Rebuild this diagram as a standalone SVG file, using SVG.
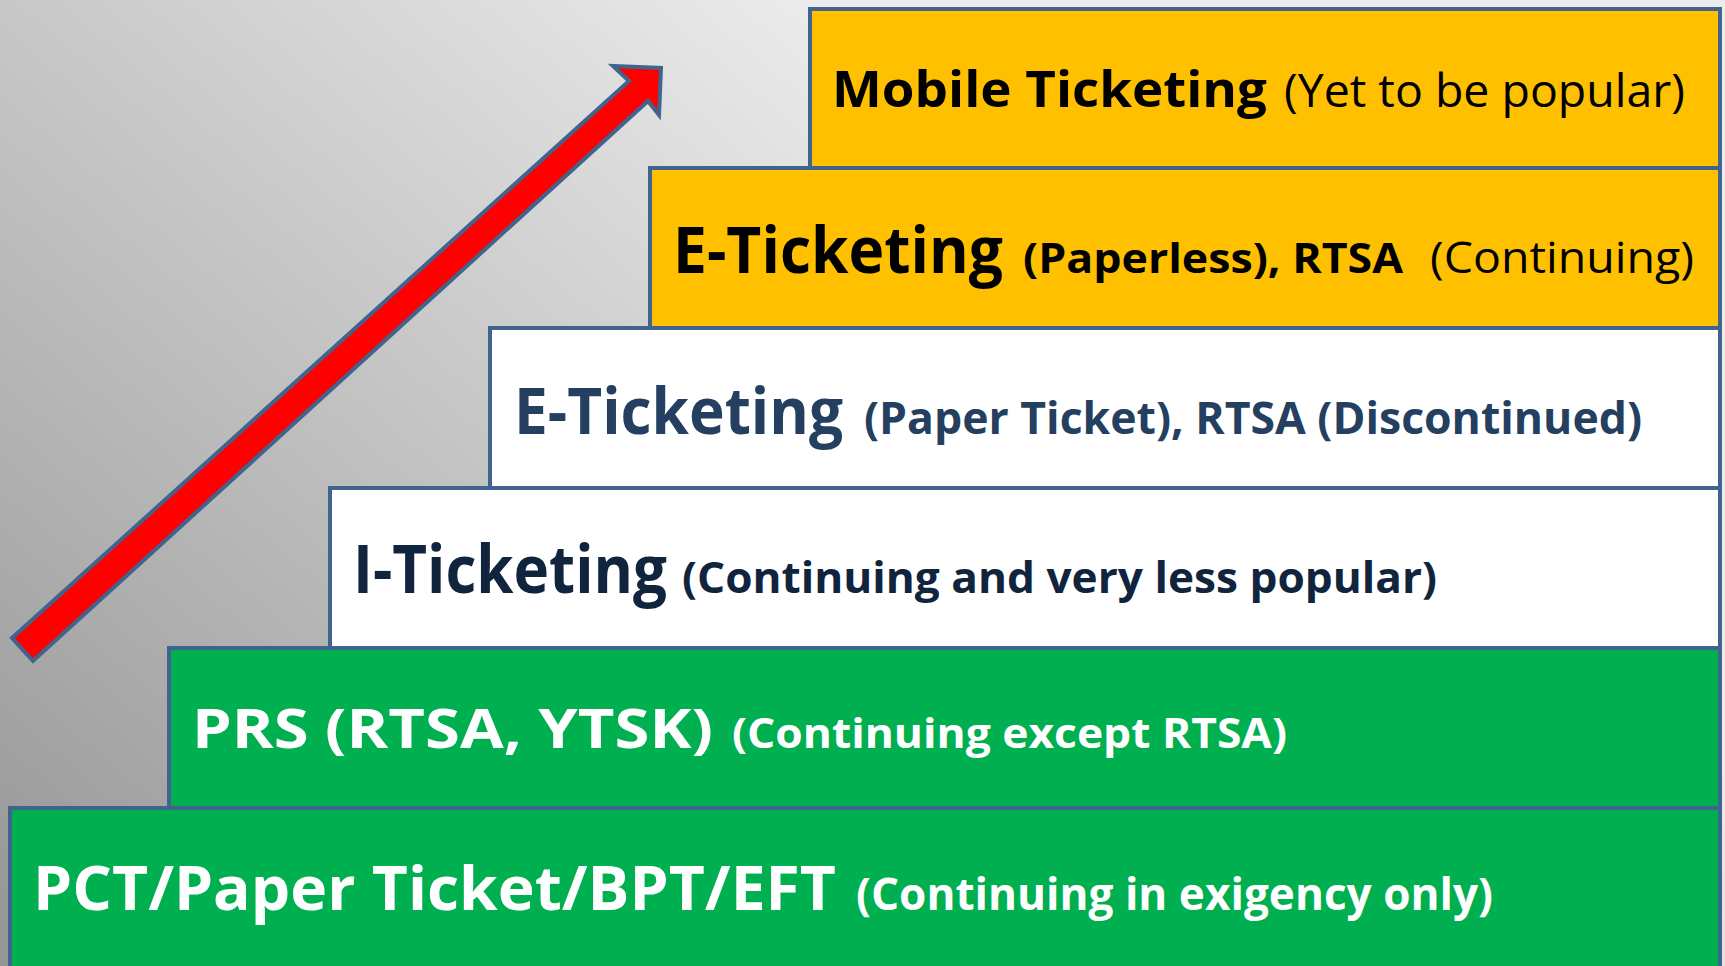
<svg xmlns="http://www.w3.org/2000/svg" width="1725" height="966" viewBox="0 0 1725 966">
<defs>
<linearGradient id="bg" gradientUnits="userSpaceOnUse" x1="0" y1="966" x2="820" y2="0">
<stop offset="0" stop-color="#959595"/>
<stop offset="1" stop-color="#ececec"/>
</linearGradient>
<style>
.box{stroke:#41648F;stroke-width:4}
.orange{fill:#FFC000}
.green{fill:#00B050}
.white{fill:#FFFFFF}
text{font-family:"Open Sans","Noto Sans","Liberation Sans",sans-serif}
.b{font-weight:bold}
.r{font-weight:normal}
.k{fill:#000000}
.nv{fill:#243F60}
.dn{fill:#10243E}
.w{fill:#FFFFFF}
</style>
</defs>
<rect x="0" y="0" width="1725" height="966" fill="url(#bg)"/>

<g id="step-mobile">
<rect class="box orange" x="810" y="9" width="910" height="159"/>
<text class="b k" x="832" y="107" font-size="51" textLength="435" lengthAdjust="spacingAndGlyphs">Mobile Ticketing</text>
<text class="r k" x="1284" y="107" font-size="45" textLength="401" lengthAdjust="spacingAndGlyphs">(Yet to be popular)</text>
</g>

<g id="step-eticket-paperless">
<rect class="box orange" x="650" y="168" width="1070" height="160"/>
<text class="b k" x="673" y="273" font-size="64" textLength="330" lengthAdjust="spacingAndGlyphs">E-Ticketing</text>
<text class="b k" x="1023" y="273" font-size="42" textLength="380" lengthAdjust="spacingAndGlyphs">(Paperless), RTSA</text>
<text class="r k" x="1430" y="273" font-size="44" textLength="264" lengthAdjust="spacingAndGlyphs">(Continuing)</text>
</g>

<g id="step-eticket-paper">
<rect class="box white" x="490" y="328" width="1230" height="160"/>
<text class="b nv" x="514" y="434" font-size="65" textLength="329" lengthAdjust="spacingAndGlyphs">E-Ticketing</text>
<text class="b nv" x="864" y="434" font-size="44" textLength="778" lengthAdjust="spacingAndGlyphs">(Paper Ticket), RTSA (Discontinued)</text>
</g>

<g id="step-iticket">
<rect class="box white" x="330" y="488" width="1390" height="160"/>
<text class="b dn" x="353" y="593" font-size="66" textLength="314" lengthAdjust="spacingAndGlyphs">I-Ticketing</text>
<text class="b dn" x="682" y="593" font-size="43" textLength="755" lengthAdjust="spacingAndGlyphs">(Continuing and very less popular)</text>
</g>

<g id="step-prs">
<rect class="box green" x="169" y="648" width="1551" height="160"/>
<text class="b w" x="192" y="748" font-size="54" textLength="521" lengthAdjust="spacingAndGlyphs">PRS (RTSA, YTSK)</text>
<text class="b w" x="732" y="748" font-size="41" textLength="555" lengthAdjust="spacingAndGlyphs">(Continuing except RTSA)</text>
</g>

<g id="step-pct">
<rect class="box green" x="10" y="808" width="1710" height="170"/>
<text class="b w" x="33" y="910" font-size="60" textLength="803" lengthAdjust="spacingAndGlyphs">PCT/Paper Ticket/BPT/EFT</text>
<text class="b w" x="856" y="910" font-size="44" textLength="637" lengthAdjust="spacingAndGlyphs">(Continuing in exigency only)</text>
</g>

<g id="connectors">
<polygon points="12,638 629,81 613,66 661,68 659,115 648,101 33,661" fill="#FF0000" stroke="#41648F" stroke-width="4" stroke-linejoin="miter"/>
</g>
</svg>
